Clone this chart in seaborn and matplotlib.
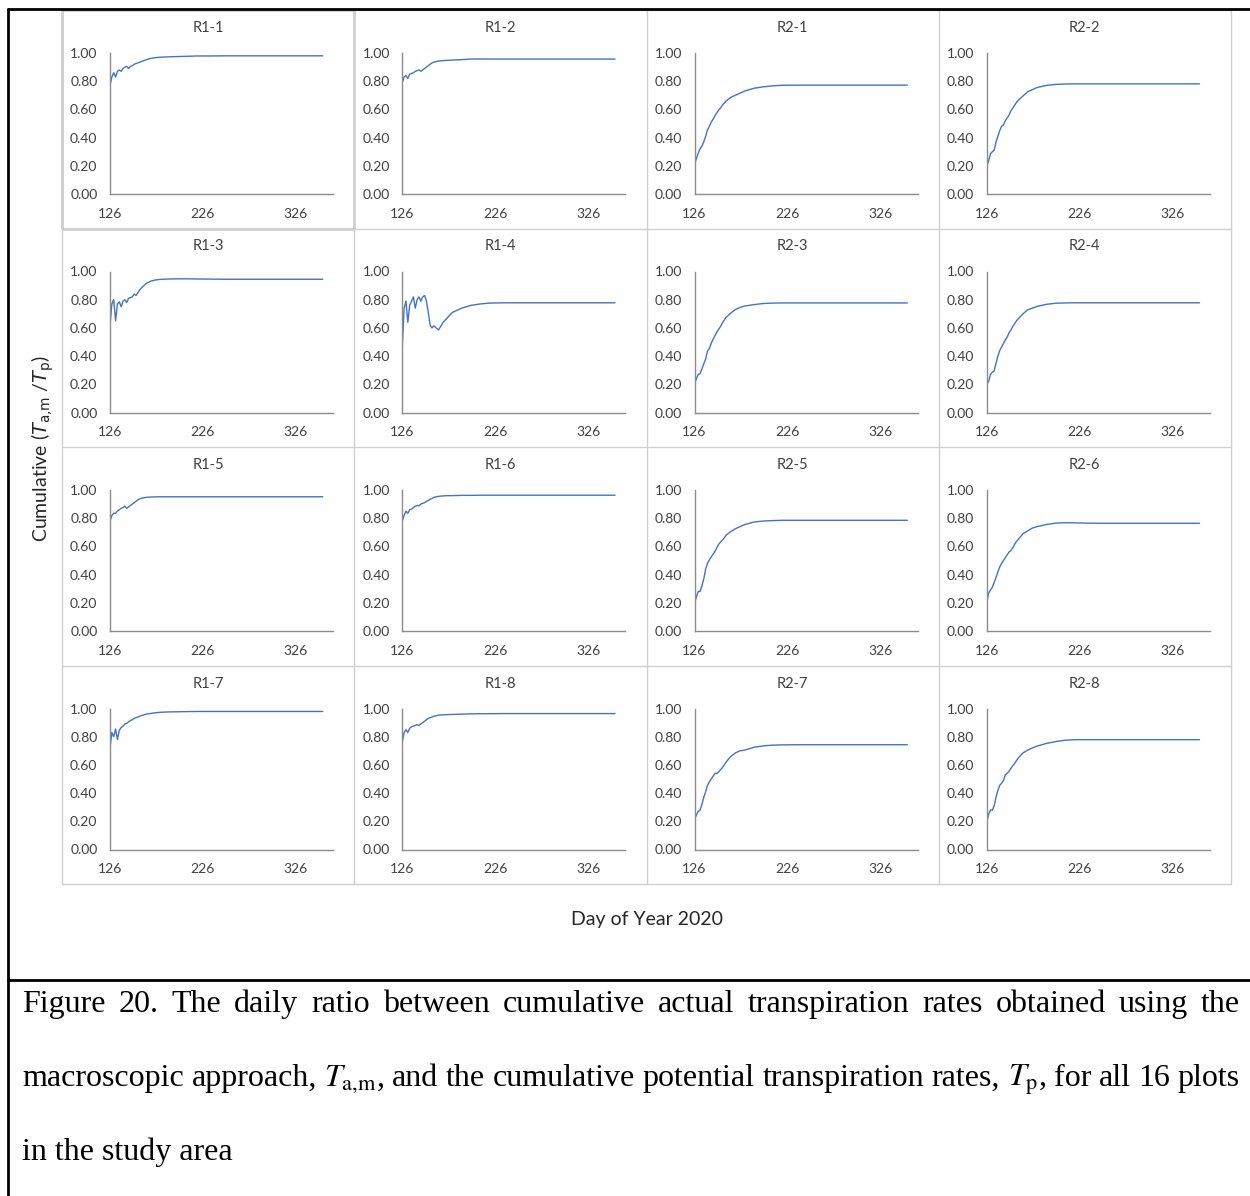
"""
Cumulative actual / potential transpiration ratio for 16 plots (R1-1 .. R2-8)
Small multiples redrawn with seaborn line plots.
"""
import numpy as np
import matplotlib
matplotlib.use('Agg')
import matplotlib.pyplot as plt
from matplotlib.lines import Line2D
from matplotlib.patches import Rectangle
import seaborn as sns

# Day of year sample points (shared by all plots)
days = [126, 128, 130, 132, 134, 136, 138, 140, 142, 144, 146, 148, 150, 152,
        154, 156, 158, 160,
        165, 170, 175, 180, 190, 200, 210, 220, 235, 250, 280, 320, 355]

# Ratio values, one list per plot
r1_1 = [0.77, 0.83, 0.86, 0.83, 0.87, 0.88, 0.87, 0.89, 0.90, 0.905, 0.89, 0.905,
        0.91, 0.92, 0.925, 0.93, 0.935, 0.94,
        0.952, 0.962, 0.967, 0.970, 0.973, 0.975, 0.977, 0.979, 0.979, 0.98, 0.98, 0.98, 0.98]
r1_2 = [0.79, 0.83, 0.84, 0.82, 0.85, 0.855, 0.86, 0.87, 0.875, 0.88, 0.87, 0.88,
        0.89, 0.90, 0.91, 0.92, 0.93, 0.935,
        0.943, 0.946, 0.948, 0.95, 0.953, 0.957, 0.958, 0.957, 0.957, 0.957, 0.957, 0.957, 0.957]
r1_3 = [0.62, 0.77, 0.80, 0.65, 0.77, 0.785, 0.75, 0.79, 0.80, 0.78, 0.81, 0.815,
        0.82, 0.84, 0.83, 0.85, 0.87, 0.885,
        0.915, 0.932, 0.94, 0.944, 0.947, 0.948, 0.948, 0.947, 0.946, 0.945, 0.945, 0.945, 0.945]
r1_4 = [0.46, 0.74, 0.79, 0.64, 0.76, 0.79, 0.82, 0.74, 0.80, 0.82, 0.79, 0.82,
        0.83, 0.79, 0.71, 0.62, 0.60, 0.615,
        0.585, 0.64, 0.675, 0.71, 0.74, 0.76, 0.77, 0.776, 0.778, 0.778, 0.778, 0.778, 0.778]
r1_5 = [0.78, 0.82, 0.835, 0.835, 0.85, 0.86, 0.87, 0.875, 0.885, 0.87, 0.88, 0.89,
        0.90, 0.91, 0.92, 0.93, 0.937, 0.942,
        0.948, 0.95, 0.951, 0.952, 0.952, 0.952, 0.952, 0.952, 0.952, 0.952, 0.952, 0.952, 0.952]
r1_6 = [0.78, 0.82, 0.85, 0.835, 0.86, 0.865, 0.875, 0.885, 0.89, 0.888, 0.90, 0.905,
        0.91, 0.92, 0.925, 0.935, 0.94, 0.948,
        0.955, 0.958, 0.96, 0.96, 0.962, 0.962, 0.963, 0.963, 0.963, 0.963, 0.963, 0.963, 0.963]
r1_7 = [0.72, 0.83, 0.80, 0.855, 0.78, 0.845, 0.865, 0.875, 0.89, 0.895, 0.905, 0.915,
        0.92, 0.93, 0.935, 0.94, 0.945, 0.95,
        0.96, 0.965, 0.97, 0.973, 0.976, 0.977, 0.978, 0.979, 0.979, 0.979, 0.979, 0.979, 0.979]
r1_8 = [0.76, 0.83, 0.85, 0.83, 0.86, 0.87, 0.875, 0.88, 0.885, 0.88, 0.89, 0.90,
        0.91, 0.92, 0.93, 0.935, 0.94, 0.945,
        0.953, 0.955, 0.957, 0.958, 0.96, 0.962, 0.963, 0.963, 0.964, 0.964, 0.964, 0.964, 0.964]
r2_1 = [0.21, 0.25, 0.29, 0.32, 0.34, 0.37, 0.41, 0.455, 0.48, 0.51, 0.53, 0.555,
        0.575, 0.595, 0.61, 0.63, 0.645, 0.66,
        0.685, 0.70, 0.715, 0.73, 0.75, 0.76, 0.767, 0.771, 0.772, 0.772, 0.772, 0.772, 0.772]
r2_2 = [0.20, 0.235, 0.285, 0.30, 0.31, 0.37, 0.41, 0.45, 0.48, 0.49, 0.52, 0.54,
        0.56, 0.59, 0.61, 0.63, 0.65, 0.665,
        0.695, 0.725, 0.74, 0.755, 0.77, 0.777, 0.78, 0.781, 0.781, 0.781, 0.781, 0.781, 0.781]
r2_3 = [0.20, 0.24, 0.27, 0.275, 0.31, 0.345, 0.38, 0.435, 0.455, 0.49, 0.52, 0.545,
        0.57, 0.59, 0.61, 0.635, 0.655, 0.675,
        0.705, 0.73, 0.745, 0.755, 0.765, 0.773, 0.776, 0.777, 0.777, 0.777, 0.777, 0.777, 0.777]
r2_4 = [0.20, 0.22, 0.27, 0.285, 0.295, 0.35, 0.40, 0.44, 0.465, 0.49, 0.515, 0.535,
        0.565, 0.585, 0.61, 0.63, 0.65, 0.665,
        0.70, 0.728, 0.74, 0.752, 0.767, 0.775, 0.777, 0.778, 0.778, 0.778, 0.778, 0.778, 0.778]
r2_5 = [0.195, 0.24, 0.28, 0.28, 0.32, 0.37, 0.44, 0.48, 0.505, 0.525, 0.545, 0.565,
        0.59, 0.615, 0.63, 0.645, 0.66, 0.68,
        0.705, 0.725, 0.74, 0.755, 0.773, 0.78, 0.783, 0.785, 0.785, 0.785, 0.785, 0.785, 0.785]
r2_6 = [0.195, 0.27, 0.29, 0.31, 0.345, 0.38, 0.42, 0.455, 0.48, 0.50, 0.52, 0.54,
        0.56, 0.57, 0.59, 0.615, 0.635, 0.65,
        0.69, 0.71, 0.73, 0.74, 0.755, 0.765, 0.768, 0.767, 0.765, 0.764, 0.764, 0.764, 0.764]
r2_7 = [0.21, 0.245, 0.27, 0.28, 0.32, 0.37, 0.41, 0.455, 0.48, 0.50, 0.52, 0.54,
        0.54, 0.55, 0.565, 0.58, 0.60, 0.62,
        0.66, 0.685, 0.70, 0.705, 0.725, 0.735, 0.74, 0.742, 0.743, 0.743, 0.743, 0.743, 0.743]
r2_8 = [0.195, 0.25, 0.28, 0.28, 0.31, 0.37, 0.42, 0.455, 0.47, 0.49, 0.53, 0.54,
        0.555, 0.575, 0.595, 0.61, 0.63, 0.65,
        0.685, 0.705, 0.72, 0.733, 0.752, 0.765, 0.775, 0.779, 0.779, 0.779, 0.779, 0.779, 0.779]

# Panel order: row by row, 4 columns
titles = ['R1-1', 'R1-2', 'R2-1', 'R2-2',
          'R1-3', 'R1-4', 'R2-3', 'R2-4',
          'R1-5', 'R1-6', 'R2-5', 'R2-6',
          'R1-7', 'R1-8', 'R2-7', 'R2-8']
series = [r1_1, r1_2, r2_1, r2_2,
          r1_3, r1_4, r2_3, r2_4,
          r1_5, r1_6, r2_5, r2_6,
          r1_7, r1_8, r2_7, r2_8]
xticks = [126, 226, 326]
yticks = [0.0, 0.2, 0.4, 0.6, 0.8, 1.0]

sns.set_style('white')
plt.rcParams['font.family'] = ['Lato', 'DejaVu Sans']

W, H = 1250, 1196
fig = plt.figure(figsize=(W / 100, H / 100), dpi=100)

def fx(px):
    return px / W

def fy(py):
    return 1 - py / H

line_col = '#4472C4'
axis_col = '#8C8C8C'
text_col = '#404040'
cell_w, cell_h = 292.25, 218.5
grid_x0, grid_y0 = 62, 10

for i, (name, vals) in enumerate(zip(titles, series)):
    r, c = divmod(i, 4)
    cx0 = grid_x0 + c * cell_w
    cy0 = grid_y0 + r * cell_h
    left, top, aw, ah = cx0 + 48, cy0 + 43, 223, 141
    ax = fig.add_axes([fx(left), fy(top + ah), aw / W, ah / H])
    sns.lineplot(x=days, y=vals, ax=ax, color=line_col, linewidth=1.0)
    ax.set_xlim(126, 366)
    ax.set_ylim(0, 1.0)
    ax.set_xticks(xticks)
    ax.set_yticks(yticks)
    ax.set_yticklabels(['%.2f' % v for v in yticks])
    ax.set_xlabel('')
    ax.set_ylabel('')
    for s in ['top', 'right']:
        ax.spines[s].set_visible(False)
    for s in ['left', 'bottom']:
        ax.spines[s].set_color(axis_col)
        ax.spines[s].set_linewidth(1.0)
    ax.tick_params(axis='both', direction='out', length=3, width=1.0,
                   color=axis_col, labelcolor=text_col, labelsize=10)
    ax.tick_params(axis='y', pad=6)
    ax.tick_params(axis='x', pad=7)
    ax.patch.set_alpha(0)
    fig.text(fx(cx0 + cell_w / 2), fy(cy0 + 18), name, ha='center', va='center',
             fontsize=10.5, color=text_col)

# Light gray grid around the panels
grid_col = '#D0D0D0'
for c in range(5):
    x = grid_x0 + c * cell_w
    fig.add_artist(Line2D([fx(x), fx(x)], [fy(grid_y0), fy(grid_y0 + 4 * cell_h)],
                          color=grid_col, lw=1))
for r in range(5):
    y = grid_y0 + r * cell_h
    fig.add_artist(Line2D([fx(grid_x0), fx(grid_x0 + 4 * cell_w)], [fy(y), fy(y)],
                          color=grid_col, lw=1))
# first panel appears selected: darker frame
fig.add_artist(Rectangle((fx(grid_x0), fy(grid_y0 + cell_h)), cell_w / W, cell_h / H,
                         fill=False, edgecolor='#262626', lw=1.0))

# Shared axis titles
fig.text(fx(647), fy(920), 'Day of Year 2020', ha='center', va='center',
         fontsize=14, color='#262626')
fig.text(fx(43), fy(448), r'Cumulative ($T_{\mathrm{a{,}m}}$ /$T_{\mathrm{p}}$)',
         ha='center', va='center', rotation=90, fontsize=14, color='#262626',
         math_fontfamily='dejavusans')

# Black frame of the document table
for xs, ys in [([8, 1250], [9, 9]), ([8, 8], [9, 1196]), ([8, 1250], [980, 980])]:
    fig.add_artist(Line2D([fx(x) for x in xs], [fy(y) for y in ys], color='black', lw=2))

# Caption, justified like in the document
cap_size = 23
cap_lines = [
    ('Figure 20. The daily ratio between cumulative actual transpiration rates obtained using the', 1012, True),
    (r'macroscopic approach, $T_{\mathrm{a{,}m}}$, and the cumulative potential transpiration rates, $T_{\mathrm{p}}$, for all 16 plots', 1086, True),
    ('in the study area', 1160, False),
]
renderer = fig.canvas.get_renderer()
for txt, yb, just in cap_lines:
    if not just:
        fig.text(fx(22), fy(yb), txt, ha='left', va='baseline', fontsize=cap_size,
                 family='Liberation Serif', color='black')
        continue
    words = txt.split(' ')
    items = [fig.text(0, fy(yb), w, ha='left', va='baseline', fontsize=cap_size,
                      family='Liberation Serif', color='black', math_fontfamily='stix')
             for w in words]
    widths = [t.get_window_extent(renderer).width for t in items]
    gap = max((1240 - 22 - sum(widths)) / (len(words) - 1), 3)
    x = 22
    for t, w in zip(items, widths):
        t.set_x(fx(x))
        x += w + gap

fig.savefig('out.png', dpi=100)
